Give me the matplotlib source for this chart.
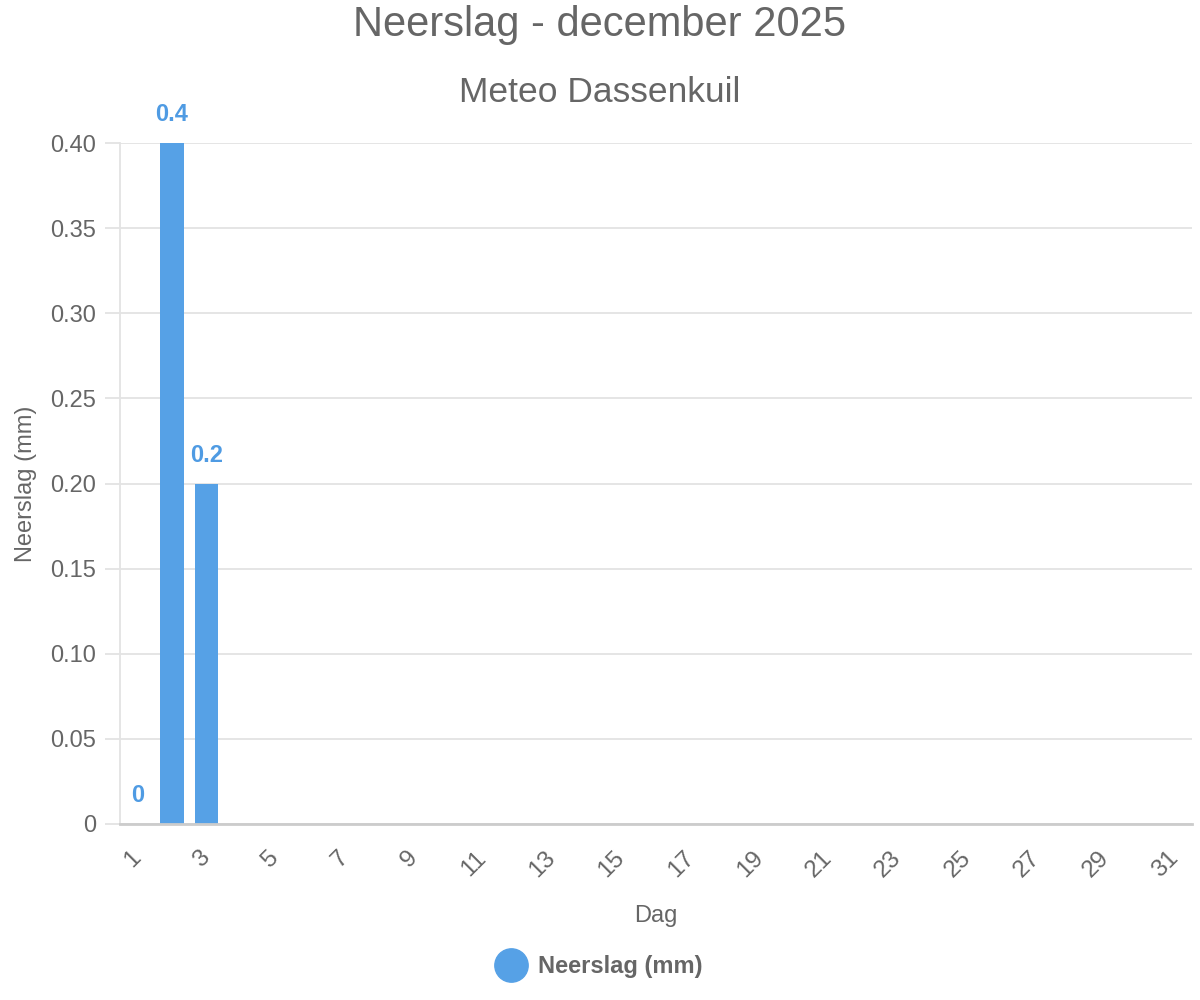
import matplotlib
matplotlib.use("Agg")
import matplotlib.pyplot as plt
from matplotlib.lines import Line2D
import numpy as np

plt.rcParams['font.family'] = ['Liberation Sans', 'DejaVu Sans']

# data: days of december, only the first three have a value
days = list(range(1, 32))
rain = [0, 0.4, 0.2] + [np.nan] * 28
title = "Neerslag - december 2025"
subtitle = "Meteo Dassenkuil"
series_name = "Neerslag (mm)"

bar_col = '#56a1e6'
label_col = '#4f9be3'
text_col = '#666666'
grid_col = '#e3e3e3'

fig = plt.figure(figsize=(12, 10), dpi=100)
ax = fig.add_axes([0.1, 0.176, 0.8933, 0.681])

x = np.arange(len(days))
ax.bar(x, rain, width=0.69, color=bar_col, zorder=3)

for xi, v in zip(x, rain):
    if np.isnan(v):
        continue
    lbl = f"{v:g}"
    ax.annotate(lbl, (xi, v), xytext=(0, 15.5), textcoords='offset points',
                ha='center', va='baseline', fontsize=17, fontweight='bold',
                color=label_col, zorder=4)

ax.set_xlim(-0.5, len(days) - 0.5)
ax.set_ylim(0, 0.4)
yt = np.arange(0, 0.41, 0.05)
ax.set_yticks(yt)
ax.set_yticklabels(["0"] + [f"{t:.2f}" for t in yt[1:]])
ax.set_xticks(x[::2])
ax.set_xticklabels([str(d) for d in days[::2]], rotation=45, ha='right',
                   va='center', rotation_mode='anchor')

ax.grid(axis='y', color=grid_col, linewidth=1.3, zorder=0)
ax.tick_params(axis='y', length=11, width=1.3, color=grid_col, labelsize=17,
               labelcolor=text_col, pad=6)
ax.tick_params(axis='x', length=0, labelsize=17.5, labelcolor=text_col, pad=22)

for s in ['top', 'right']:
    ax.spines[s].set_visible(False)
ax.spines['left'].set_color(grid_col)
ax.spines['left'].set_linewidth(1.3)
ax.spines['bottom'].set_color('#cccccc')
ax.spines['bottom'].set_linewidth(2)
ax.spines['bottom'].set_zorder(5)

ax.set_xlabel("Dag", fontsize=17, color=text_col, labelpad=17)
ax.set_ylabel(series_name, fontsize=17, color=text_col, labelpad=10)

fig.text(0.5, 0.975, title, ha='center', va='center', fontsize=30, color=text_col)
fig.text(0.5, 0.908, subtitle, ha='center', va='center', fontsize=25.5, color=text_col)

handle = Line2D([], [], linestyle='none', marker='o', markersize=24,
                markerfacecolor=bar_col, markeredgecolor=bar_col)
leg = fig.legend([handle], [series_name], loc='center', bbox_to_anchor=(0.5, 0.033),
                 frameon=False, handletextpad=0.55, handlelength=1.2,
                 prop={'size': 17, 'weight': 'bold'})
for t in leg.get_texts():
    t.set_color(text_col)

fig.savefig("out.png", dpi=100)
